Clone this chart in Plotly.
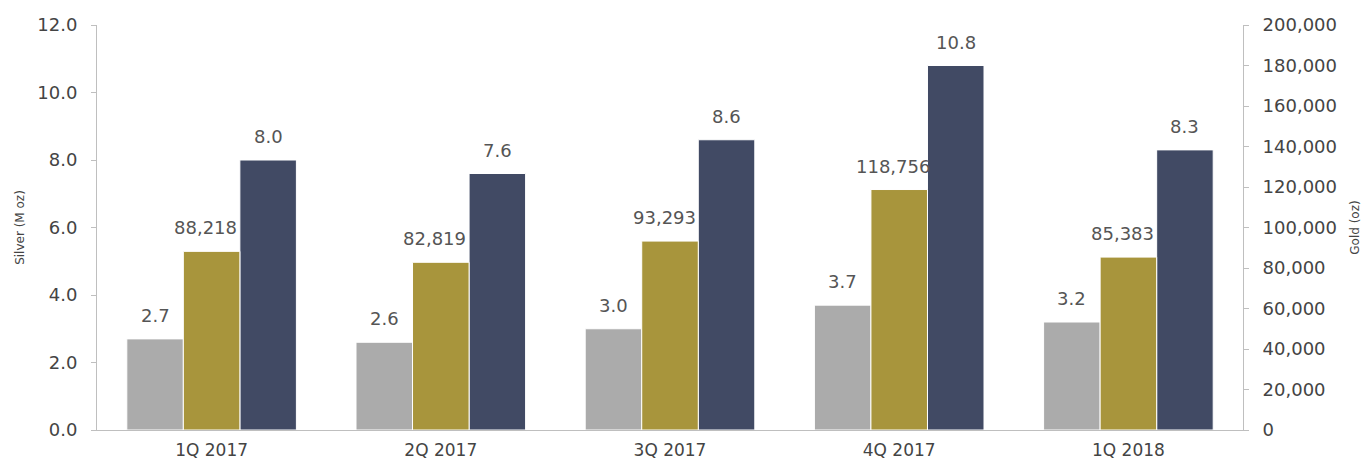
import plotly.graph_objects as go

categories = ["1Q 2017", "2Q 2017", "3Q 2017", "4Q 2017", "1Q 2018"]
silver_moz = [2.7, 2.6, 3.0, 3.7, 3.2]
gold_oz = [88218, 82819, 93293, 118756, 85383]
silver_eq_moz = [8.0, 7.6, 8.6, 10.8, 8.3]

left_ticks = [0, 2, 4, 6, 8, 10, 12]
right_ticks = list(range(0, 200001, 20000))

GREY = "#ababab"
GOLD = "#a8953c"
NAVY = "#414a64"
TXT = "#555555"
TICK_TXT = "#444444"
FONT = "DejaVu Sans"
BARGAP = 0.26

series = [
    ("Silver", silver_moz, "y", GREY, lambda v: f"{v:.1f}", 0),
    ("Gold", gold_oz, "y2", GOLD, lambda v: f"{v:,}", -6),
    ("Silver equivalent", silver_eq_moz, "y", NAVY, lambda v: f"{v:.1f}", 0),
]

fig = go.Figure()
n = len(series)
bw = (1 - BARGAP) / n
annotations = []
for k, (name, vals, yax, col, fmt, xs) in enumerate(series):
    fig.add_trace(go.Bar(
        x=categories, y=vals, name=name, yaxis=yax, offsetgroup=str(k),
        marker=dict(color=col, line=dict(color="white", width=1)),
        hoverinfo="x+y",
    ))
    off = (k - (n - 1) / 2) * bw
    for i, v in enumerate(vals):
        annotations.append(dict(
            x=i + off, y=v, xref="x", yref=yax, text=fmt(v),
            showarrow=False, yanchor="bottom", yshift=11, xshift=xs,
            font=dict(size=18, color=TXT, family=FONT),
        ))

fig.update_layout(
    width=1361, height=455,
    margin=dict(l=89, r=126, t=17, b=33, autoexpand=False),
    paper_bgcolor="white", plot_bgcolor="white",
    barmode="group", bargap=BARGAP, bargroupgap=0,
    showlegend=False,
    font=dict(family=FONT, color=TXT, size=18),
    annotations=annotations,
    xaxis=dict(
        showline=True, linecolor="#bfbfbf", linewidth=1, ticks="",
        tickfont=dict(size=17, color=TICK_TXT), showgrid=False,
        ticklabelstandoff=5, automargin=False,
    ),
    yaxis=dict(
        range=[0, 12], tickvals=left_ticks, tickformat=".1f",
        showline=True, linecolor="#bfbfbf", linewidth=1,
        ticks="outside", ticklen=5, tickcolor="#bfbfbf",
        ticklabelstandoff=10, automargin=False,
        showgrid=False, zeroline=False,
        tickfont=dict(size=18, color=TICK_TXT),
        title=dict(text="Silver (M oz)", font=dict(size=12, color=TICK_TXT), standoff=10),
    ),
    yaxis2=dict(
        range=[0, 200000], tickvals=right_ticks, tickformat=",",
        overlaying="y", side="right", anchor="x",
        showline=True, linecolor="#bfbfbf", linewidth=1,
        ticks="outside", ticklen=5, tickcolor="#bfbfbf",
        ticklabelstandoff=10, automargin=False,
        showgrid=False, zeroline=False,
        tickfont=dict(size=18, color=TICK_TXT),
        title=dict(text="Gold (oz)", font=dict(size=12, color=TICK_TXT), standoff=14),
    ),
)

fig.write_html("out.html")
